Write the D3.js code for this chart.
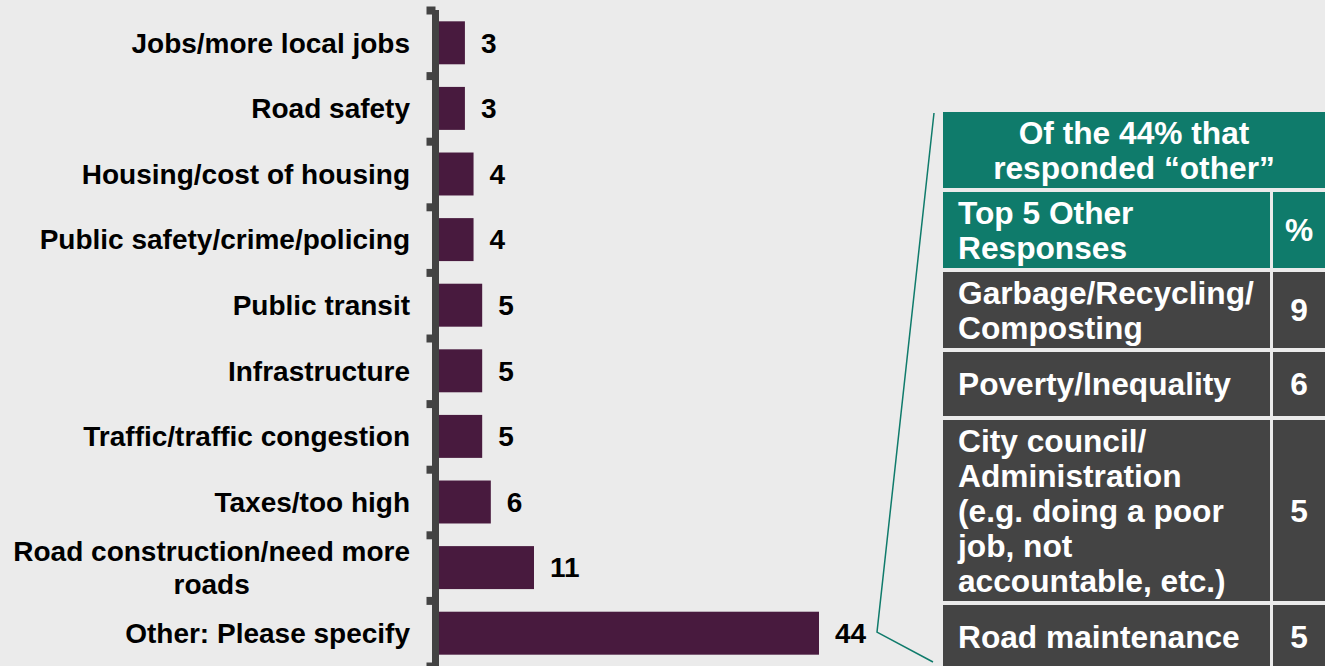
<!DOCTYPE html>
<html>
<head>
<meta charset="utf-8">
<script src="https://cdn.jsdelivr.net/npm/d3@7"></script>
<style>
  html, body { margin: 0; padding: 0; background: #ebebeb; }
  svg { display: block; }
  text { font-family: "Liberation Sans", Arial, sans-serif; font-weight: bold; }
</style>
</head>
<body>
<svg id="chart" width="1325" height="666"></svg>
<script>
// Survey responses: most important issue (%)
const categories = [
  "Jobs/more local jobs",
  "Road safety",
  "Housing/cost of housing",
  "Public safety/crime/policing",
  "Public transit",
  "Infrastructure",
  "Traffic/traffic congestion",
  "Taxes/too high",
  "Road construction/need more\nroads",
  "Other: Please specify"
];
const values = [3, 3, 4, 4, 5, 5, 5, 6, 11, 44];

// Breakdown of the "other" responses
const tableTitle = "Of the 44% that\nresponded \u201cother\u201d";
const tableHeader = ["Top 5 Other\nResponses", "%"];
const otherResponses = [
  "Garbage/Recycling/\nComposting",
  "Poverty/Inequality",
  "City council/\nAdministration\n(e.g. doing a poor\njob, not\naccountable, etc.)",
  "Road maintenance"
];
const otherValues = [9, 6, 5, 5];

const W = 1325, H = 666;
const svg = d3.select("#chart");

const barColor = "#481a3e";
const axisColor = "#434343";
const teal = "#0f7b6b";
const cellGrey = "#444444";

// ---- bar chart ----
const y = d3.scaleBand()
  .domain(categories)
  .range([10, 666])
  .paddingInner(0.345)
  .paddingOuter(0.1725);

const x = d3.scaleLinear()
  .domain([0, d3.max(values)])
  .range([439, 819]);

const data = categories.map((c, i) => ({ cat: c, v: values[i] }));

svg.append("g").selectAll("rect")
  .data(data)
  .join("rect")
  .attr("x", x(0))
  .attr("y", d => y(d.cat))
  .attr("width", d => x(d.v) - x(0))
  .attr("height", y.bandwidth())
  .attr("fill", barColor);

// Axis with ticks on the category boundaries
const edge = d3.scaleLinear().domain([0, categories.length]).range(y.range());
const axisG = svg.append("g")
  .attr("transform", "translate(435.5,0)")
  .call(d3.axisLeft(edge)
    .tickValues(d3.range(categories.length + 1))
    .tickSize(9)
    .tickSizeOuter(0)
    .tickFormat(""));
axisG.select(".domain").attr("stroke", axisColor).attr("stroke-width", 7)
  .attr("d", `M0,${edge(0)}V${H + 10}`);
axisG.selectAll(".tick line").attr("stroke", axisColor).attr("stroke-width", 8);

// Category labels (right-aligned block; wrapped lines centred on each other)
const labelRight = 410;
const catFont = 28;
const catLine = 33;
const labels = svg.append("g").selectAll("text")
  .data(data)
  .join("text")
  .attr("font-size", catFont)
  .attr("fill", "#000");
labels.each(function(d) {
  const t = d3.select(this);
  const lines = d.cat.split("\n");
  const cy = y(d.cat) + y.bandwidth() / 2;
  lines.forEach((ln, i) => {
    t.append("tspan")
      .attr("y", cy + (i - (lines.length - 1) / 2) * catLine + catFont * 0.35)
      .text(ln);
  });
  if (lines.length === 1) {
    t.attr("text-anchor", "end").selectAll("tspan").attr("x", labelRight);
  } else {
    const widths = [];
    t.selectAll("tspan").each(function() { widths.push(this.getComputedTextLength()); });
    const cx = labelRight - d3.max(widths) / 2;
    t.attr("text-anchor", "middle").selectAll("tspan").attr("x", cx);
  }
});

// Value labels
svg.append("g").selectAll("text")
  .data(data)
  .join("text")
  .attr("x", d => x(d.v) + 16)
  .attr("y", d => y(d.cat) + y.bandwidth() / 2 + catFont * 0.35)
  .attr("font-size", catFont)
  .attr("fill", "#000")
  .text(d => d.v);

// ---- "other" breakdown table ----
const tblX = 943, tblR = W, colDiv = 1270, gap = 4;
const tFont = 31.7, tLine = 35;
const rows = [
  { cells: [tableTitle], fill: teal, merged: true },
  { cells: tableHeader, fill: teal },
  ...otherResponses.map((r, i) => ({ cells: [r, String(otherValues[i])], fill: cellGrey }))
];
let rowTop = 112;
rows.forEach(r => {
  const nLines = d3.max(r.cells, c => c.split("\n").length);
  r.h = Math.max(64, nLines * tLine + 6);
  r.y0 = rowTop;
  rowTop += r.h + gap;
});

const tbl = svg.append("g");
rows.forEach(r => {
  const cy = r.y0 + r.h / 2;
  const cols = r.merged
    ? [{ x0: tblX, x1: tblR, anchor: "middle", text: r.cells[0] }]
    : [
        { x0: tblX, x1: colDiv, anchor: "start", text: r.cells[0] },
        { x0: colDiv + 3, x1: tblR, anchor: "middle", text: r.cells[1] }
      ];
  cols.forEach(c => {
    tbl.append("rect")
      .attr("x", c.x0).attr("y", r.y0)
      .attr("width", c.x1 - c.x0).attr("height", r.h)
      .attr("fill", r.fill);
    const lines = c.text.split("\n");
    const tx = c.anchor === "start" ? c.x0 + 15 : (c.x0 + c.x1) / 2;
    const t = tbl.append("text")
      .attr("font-size", tFont)
      .attr("fill", "#fff")
      .attr("text-anchor", c.anchor);
    lines.forEach((ln, i) => {
      t.append("tspan")
        .attr("x", tx)
        .attr("y", cy + (i - (lines.length - 1) / 2) * tLine + tFont * 0.35)
        .text(ln);
    });
  });
});

// Connector from the "Other" value to the table
const otherCat = categories[categories.length - 1];
const anchorX = x(values[values.length - 1]) + 58;
const anchorY = y(otherCat) + y.bandwidth() / 2 - 1;
svg.append("path")
  .attr("d", d3.line()([[tblX - 9, rows[0].y0 + 1], [anchorX, anchorY], [tblX - 10, H - 4]]))
  .attr("fill", "none")
  .attr("stroke", teal)
  .attr("stroke-width", 1.5);
</script>
</body>
</html>
